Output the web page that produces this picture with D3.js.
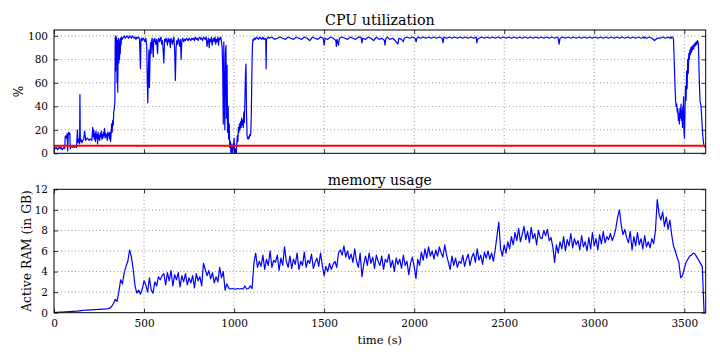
<!DOCTYPE html>
<html><head><meta charset="utf-8">
<script src="https://cdn.jsdelivr.net/npm/d3@7"></script>
<style>
body{margin:0;background:#fff;}
svg{display:block;}
text{font-family:"DejaVu Serif",serif;fill:#000;}
</style></head>
<body><svg id="c" width="720" height="360"></svg>
<script>
// ---- data ----
const xTicks=[0,500,1000,1500,2000,2500,3000,3500];
const cpuTicks=[0,20,40,60,80,100];
const memTicks=[0,2,4,6,8,10,12];
const cpuThreshold=6.5;
const cpuTime=[0,5,10,15,20,25,30,35,40,45,50,55,60,62,65,70,73,76,79,82,85,88,90,95,100,105,110,115,120,125,
130,133,136,139,142,144,146,150,155,160,165,170,173,176,180,185,190,195,200,205,210,
215,218,221,224,227,230,233,236,239,242,245,248,251,254,257,260,263,266,269,272,275,278,281,284,287,290,293,296,299,302,305,308,311,314,317,320,323,326,329,332,335,338,340,342,344,346,348,350,352,354,356,358,360,362,364,366,368,370,372,375,378,
385,390,395,400,405,410,415,420,425,430,435,440,445,450,455,460,465,470,475,480,483,486,490,495,500,505,510,515,518,521,524,527,530,533,536,539,542,545,548,551,554,557,560,565,570,575,578,582,586,590,594,598,602,606,610,614,618,622,626,630,634,638,642,646,650,654,658,662,666,670,674,678,682,686,690,694,698,702,706,710,715,720,725,730,735,740,745,750,755,760,765,770,775,780,785,790,795,800,805,810,815,820,825,830,835,840,845,850,854,858,862,866,870,874,878,882,886,890,894,898,902,906,910,914,918,922,926,930,
934,937,940,943,946,949,952,955,958,961,964,967,970,973,976,979,982,985,988,991,994,997,1000,1003,1006,1009,1012,1015,1018,1021,1024,1027,1030,1033,1036,1039,1042,1045,1048,1051,1054,1057,1060,1063,1066,1069,1072,1075,1078,1081,1084,1087,1090,1093,1096,1099,1102,1105,1108,1112,1118,1124,1130,1136,1142,1148,1154,1160,1166,1172,1176,1178,1180,1185,1190,
1195,1210,1225,1240,1255,1270,1285,1300,1315,1330,1345,1360,1375,1390,1405,1420,1435,1450,1465,1480,1495,1500,1505,1520,1535,1550,1565,1568,1572,1580,1585,1600,1615,1630,1645,1660,1675,1690,1705,1710,1715,1730,1745,1760,1775,1790,1805,1820,1835,1838,1842,1850,1865,1880,1895,1910,1915,1930,1940,1945,1960,1975,1990,2005,2011,2016,2020,2035,2050,2065,2080,2095,2110,2125,2140,2155,2160,2165,2180,2195,2210,2225,2240,2255,2270,2285,2300,2315,2330,2345,2348,2352,2360,2375,2390,2405,2420,2435,2450,2465,2480,2495,2510,2525,2540,2555,2570,2585,2600,2615,2630,2645,2660,2675,2690,2705,2720,2735,2750,2765,2780,2795,2800,2805,2810,2825,2840,2855,2870,2885,2900,2915,2930,2945,2960,2975,2990,3005,3020,3035,3050,3065,3080,3095,3110,3125,3140,3155,3170,3185,3200,3215,3230,3245,3260,3275,3277,3280,3290,3305,3320,3335,3350,3365,3380,3395,3410,
3420,3425,3428,3431,3434,3437,3440,3443,3446,3449,3452,3455,3458,3461,3464,3467,3470,3473,3476,3479,3482,3485,3488,3490,3492,3494,3496,3498,3501,3504,3507,3510,3513,3516,3519,3522,3525,3528,3531,3534,3537,3540,3543,3546,3549,3552,3555,3558,3561,3564,3567,3570,3573,3576,3579,3582,3585,3588,3591,3594,3597,3600,3603,3606,3609,3612,3615];
const cpuValue=[3,5,4,5,3,4,6,4,5,3,4,5,4,14,15,13,17,2,15,18,16,17,4,5,6,5,6,5,6,5,
20,9,12,10,8,50,10,12,9,11,12,19,15,11,12,13,12,11,12,12,11,
22,14,20,12,17,10,19,13,16,8,18,12,15,11,17,14,19,12,16,13,18,15,21,13,17,14,16,11,18,15,17,12,18,10,16,25,18,28,24,36,38,45,99,70,100,85,98,60,96,52,90,98,77,95,80,97,85,98,92,99,97,
99,100,98,99,100,99,98,100,99,98,100,99,98,99,97,99,98,99,97,72,97,98,96,98,97,95,98,92,60,43,70,88,56,80,94,85,96,98,90,82,97,95,98,93,97,85,96,98,95,97,99,93,96,88,77,97,95,98,96,92,98,95,97,90,98,96,93,97,99,88,62,90,96,93,98,95,91,97,80,96,98,95,97,96,98,97,96,98,97,96,98,97,98,96,99,97,98,96,98,99,97,98,96,99,98,97,99,91,96,98,90,97,95,99,92,96,98,95,99,93,97,95,99,92,98,97,99,95,
90,70,25,95,40,20,85,92,30,75,18,40,12,25,5,10,0,3,8,0,2,6,13,2,0,4,0,8,15,10,22,18,25,20,27,22,30,24,28,22,35,26,45,66,76,35,15,13,12,14,13,16,15,18,35,70,92,97,96,98,97,99,98,97,99,98,97,99,97,98,96,72,97,98,99,
98,99,97,98,99,98,97,99,98,97,99,98,97,99,98,96,99,98,97,99,98,92,98,97,99,98,96,91,97,92,98,99,98,97,99,98,97,99,99,94,98,97,99,98,96,99,97,98,96,92,97,99,97,98,96,93,98,97,95,98,99,98,99,98,95,98,99,98,99,98,99,98,99,98,99,98,94,99,98,99,98,99,98,99,98,99,98,99,98,99,94,97,98,99,98,99,98,99,98,99,98,99,98,99,98,99,98,99,98,99,98,99,98,99,98,99,98,99,98,99,98,99,98,93,98,99,98,99,98,99,98,99,98,99,98,99,98,99,98,99,98,99,98,99,98,99,98,99,98,99,98,99,98,99,98,99,98,99,98,99,98,96,98,98,99,98,99,98,99,98,99,99,
99,97,85,70,55,45,40,42,35,38,28,34,25,38,30,42,28,36,22,40,30,48,20,13,35,57,45,70,55,80,68,85,80,88,84,90,86,91,88,92,89,93,91,94,92,95,93,96,95,92,70,55,44,42,38,30,22,15,10,7,6,5,6,4,3,3,5];
const memStep=10; // seconds between memory samples (sample i is at i*memStep)
const memValue=[0.02,0.03,0.04,0.05,0.06,0.07,0.08,0.09,0.10,0.11,0.12,0.13,0.14,0.16,0.18,0.20,0.22,0.24,0.25,0.26,0.27,0.28,0.29,0.30,0.31,0.32,0.33,0.34,0.35,0.37,0.40,
0.45,0.6,0.9,1.3,1.1,2.0,3.2,2.8,3.9,4.5,5.0,6.1,5.4,4.2,2.6,
1.9,2.2,1.8,2.3,3.1,2.7,2.0,3.4,2.2,1.9,3.0,2.6,3.5,3.2,3.6,
3.8,2.7,3.9,3.1,4.1,2.6,3.7,3.2,3.9,2.5,3.6,3.0,3.8,2.7,3.4,
2.9,3.6,2.4,3.8,3.1,3.5,2.6,4.8,4.2,3.6,4.1,3.3,3.9,2.9,3.5,
3.0,4.4,3.4,4.0,2.2,2.8,2.4,2.3,2.35,2.3,2.3,2.35,2.3,2.35,2.3,
2.6,2.3,2.35,2.6,2.35,
4.8,5.8,4.4,5.0,4.5,5.6,4.2,5.2,4.6,6.0,4.4,5.1,4.9,5.6,4.1,5.3,4.6,6.4,5.0,4.4,
5.5,4.3,5.2,4.7,5.8,4.2,5.0,4.6,5.9,4.4,5.1,4.8,5.7,4.3,4.9,5.3,4.5,5.8,4.6,3.6,
4.5,4.0,4.8,4.2,4.7,5.0,4.4,5.8,6.1,5.6,6.5,5.4,6.0,5.2,5.7,4.9,6.2,5.0,4.4,5.8,
3.5,4.7,5.5,4.6,5.8,4.8,5.4,4.3,5.6,5.0,4.6,5.5,4.2,5.2,4.9,5.7,4.4,5.1,4.0,5.3,
4.7,5.2,4.3,5.6,4.6,5.0,3.7,4.8,5.4,4.5,3.3,5.2,4.6,5.9,5.1,6.2,5.3,6.4,5.5,6.0,
5.2,6.1,5.5,6.4,5.8,5.4,6.6,5.6,4.9,4.2,5.5,4.6,5.3,4.4,5.0,4.8,5.6,4.5,5.2,5.7,
4.6,5.4,5.8,4.9,6.2,5.1,5.6,4.7,5.9,5.3,6.0,5.2,5.8,5.0,6.1,7.5,8.8,6.2,5.5,6.6,
5.8,6.9,6.2,7.4,6.6,7.8,7.0,8.2,6.9,7.6,8.4,7.1,7.9,6.8,8.3,7.2,7.7,6.6,8.0,7.3,
7.2,8.0,7.5,8.1,7.0,7.3,6.4,4.9,6.6,5.8,6.9,6.2,7.4,6.0,7.1,6.5,7.7,6.3,7.2,6.6,
7.0,6.1,7.5,6.4,6.9,6.0,7.3,6.2,7.8,6.5,7.2,6.1,7.6,6.7,7.9,6.8,7.4,7.1,7.7,7.0,
7.5,8.2,9.3,10.0,8.5,7.6,8.1,7.3,6.8,7.9,6.1,7.4,6.5,7.8,6.6,7.2,6.2,7.5,6.4,6.9,
6.3,7.2,6.7,8.0,11.0,9.6,9.0,9.8,8.4,9.3,8.1,9.0,7.6,6.5,6.0,
5.4,4.9,3.4,3.6,4.3,4.9,5.2,5.5,5.6,5.8,5.7,5.4,5.1,4.8,4.5,0];
const xMax=3619;

// ---- layout ----
const svg=d3.select("#c");
const L=54,R=705.7;
const top1=30,bot1=153.3,top2=189.3,bot2=312.7;
const x=d3.scaleLinear().domain([0,xMax]).range([L,R]);
const y1=d3.scaleLinear().domain([0,105]).range([bot1,top1]);
const y2=d3.scaleLinear().domain([0,12]).range([bot2,top2]);

function panel(y,top,bot,yt,id){
  const g=svg.append("g");
  g.append("clipPath").attr("id",id).append("rect").attr("x",L).attr("y",top).attr("width",R-L).attr("height",bot-top);
  g.append("g").selectAll("line").data(xTicks.filter(d=>d>0)).join("line")
    .attr("x1",d=>x(d)).attr("x2",d=>x(d)).attr("y1",top).attr("y2",bot)
    .attr("stroke","#000").attr("stroke-width",0.6).attr("stroke-dasharray","1,2.5").attr("opacity",0.7);
  g.append("g").selectAll("line").data(yt.filter(d=>y(d)>top+1&&y(d)<bot-1)).join("line")
    .attr("x1",L).attr("x2",R).attr("y1",d=>y(d)).attr("y2",d=>y(d))
    .attr("stroke","#000").attr("stroke-width",0.6).attr("stroke-dasharray","1,2.5").attr("opacity",0.7);
  return g;
}
function frame(g,y,top,bot,yt,showX){
  const ax=g.append("g");
  ax.append("g").attr("transform",`translate(0,${bot})`).call(d3.axisBottom(x).tickValues(xTicks).tickSize(-4).tickPadding(7).tickFormat(showX?d3.format("d"):()=>""));
  ax.append("g").attr("transform",`translate(0,${top})`).call(d3.axisTop(x).tickValues(xTicks).tickSize(-4).tickFormat(()=>""));
  ax.append("g").attr("transform",`translate(${L},0)`).call(d3.axisLeft(y).tickValues(yt).tickSize(-4).tickPadding(6).tickFormat(d3.format("d")));
  ax.append("g").attr("transform",`translate(${R},0)`).call(d3.axisRight(y).tickValues(yt).tickSize(-4).tickFormat(()=>""));
  ax.selectAll(".domain").remove();
  ax.selectAll(".tick line").attr("stroke","#000").attr("stroke-width",0.8);
  ax.selectAll(".tick text").attr("font-family","DejaVu Serif").attr("font-size",10.5).attr("fill","#000");
  g.append("rect").attr("x",L).attr("y",top).attr("width",R-L).attr("height",bot-top)
    .attr("fill","none").attr("stroke","#000").attr("stroke-width",1);
}

// CPU panel
const g1=panel(y1,top1,bot1,cpuTicks,"clip1");
const cpuPts=cpuTime.map((t,i)=>[t,cpuValue[i]]);
g1.append("path").datum(cpuPts).attr("clip-path","url(#clip1)")
  .attr("d",d3.line().x(d=>x(d[0])).y(d=>y1(d[1])))
  .attr("fill","none").attr("stroke","#0000ff").attr("stroke-width",1.2).attr("stroke-linejoin","round");
g1.append("line").attr("x1",L).attr("x2",R).attr("y1",y1(cpuThreshold)).attr("y2",y1(cpuThreshold))
  .attr("stroke","#ff0000").attr("stroke-width",2);
frame(g1,y1,top1,bot1,cpuTicks,false);

// Memory panel
const g2=panel(y2,top2,bot2,memTicks,"clip2");
g2.append("path").datum(memValue).attr("clip-path","url(#clip2)")
  .attr("d",d3.line().x((d,i)=>x(Math.min(i*memStep,xMax))).y(d=>y2(d)))
  .attr("fill","none").attr("stroke","#0000ff").attr("stroke-width",1.2).attr("stroke-linejoin","round");
frame(g2,y2,top2,bot2,memTicks,true);

// titles & labels
const cx=(L+R)/2;
svg.append("text").attr("x",cx).attr("y",25).attr("text-anchor","middle").attr("font-size",14.3).text("CPU utilization");
svg.append("text").attr("x",cx).attr("y",185).attr("text-anchor","middle").attr("font-size",14).text("memory usage");
svg.append("text").attr("x",cx).attr("y",344).attr("text-anchor","middle").attr("font-size",11.5).text("time (s)");
svg.append("text").attr("transform",`translate(23,${(top1+bot1)/2}) rotate(-90)`).attr("text-anchor","middle").attr("font-size",12).text("%");
svg.append("text").attr("transform",`translate(31,${(top2+bot2)/2}) rotate(-90)`).attr("text-anchor","middle").attr("font-size",12.3).text("Active RAM (in GB)");
</script></body></html>
